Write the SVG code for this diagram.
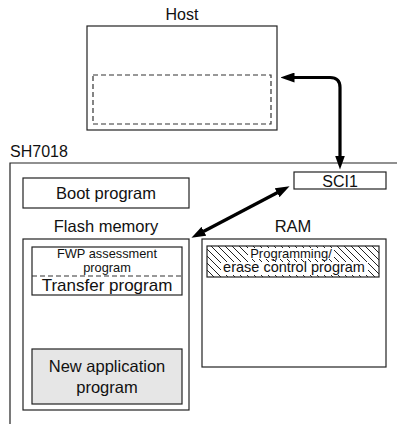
<svg xmlns="http://www.w3.org/2000/svg" width="397" height="424" viewBox="0 0 397 424">
<style>
text{font-family:"Liberation Sans",Arial,sans-serif;fill:#111;text-anchor:middle}
.box{fill:#fff;stroke:#222;stroke-width:1.2}
.dash{fill:none;stroke:#333;stroke-width:1.2;stroke-dasharray:5,3}
.conn{fill:none;stroke:#000;stroke-width:3.2}
</style>
<defs>
<pattern id="hatch" patternUnits="userSpaceOnUse" width="7" height="7">
<path d="M-1,-1 L8,8 M-8,-1 L1,8 M6,-1 L15,8" stroke="#222" stroke-width="1"/>
</pattern>
<marker id="ah" viewBox="0 0 14 10" refX="0.5" refY="5" markerWidth="14" markerHeight="10" orient="auto-start-reverse" markerUnits="userSpaceOnUse">
<path d="M0,0 L14,5 L0,10 Z" fill="#000"/>
</marker>
</defs>

<g id="host">
<text x="182" y="20" font-size="16">Host</text>
<rect class="box" x="87" y="26" width="190" height="104"/>
<rect class="dash" x="93" y="75" width="178" height="49"/>
</g>

<g id="sh7018">
<text x="10" y="157" font-size="16" style="text-anchor:start">SH7018</text>
<path d="M10,424 V163 H397" fill="none" stroke="#222" stroke-width="1.2"/>
</g>

<g id="sci1">
<rect class="box" x="294" y="172" width="92" height="17"/>
<text x="340" y="187" font-size="16">SCI1</text>
</g>

<g id="boot">
<rect class="box" x="23" y="178" width="166" height="30"/>
<text x="106" y="199" font-size="16.5">Boot program</text>
</g>

<g id="flash">
<text x="106" y="232" font-size="16.5">Flash memory</text>
<rect class="box" x="23" y="239" width="166" height="171"/>
</g>

<g id="fwp">
<rect class="box" x="32" y="247" width="150" height="48"/>
<line x1="32" y1="276" x2="182" y2="276" class="dash"/>
<text x="107" y="257.5" font-size="12.8">FWP assessment</text>
<text x="107" y="271.5" font-size="12.8">program</text>
<text x="107" y="291" font-size="17">Transfer program</text>
</g>

<g id="newapp">
<rect x="32" y="349" width="150" height="55" fill="#e6e6e6" stroke="#222" stroke-width="1.2"/>
<text x="107" y="372" font-size="16.5">New application</text>
<text x="107" y="393" font-size="16.5">program</text>
</g>

<g id="ram">
<text x="293" y="232" font-size="16.5">RAM</text>
<rect class="box" x="202" y="239" width="184" height="128"/>
</g>

<g id="pecp">
<rect x="207" y="246" width="172" height="31" fill="url(#hatch)" stroke="#222" stroke-width="1.2"/>
<rect x="248" y="248" width="86" height="11" fill="#fff"/>
<rect x="221" y="262" width="147" height="13" fill="#fff"/>
<text x="291" y="257.5" font-size="13">Programming/</text>
<text x="294" y="272" font-size="14.5">erase control program</text>
</g>

<g id="connectors">
<path class="conn" d="M294,77.5 H330 Q340,77.5 340,87.5 V156" marker-start="url(#ah)" marker-end="url(#ah)"/>
<line class="conn" x1="277.6" y1="192.5" x2="203.4" y2="231.5" marker-start="url(#ah)" marker-end="url(#ah)"/>
</g>
</svg>
